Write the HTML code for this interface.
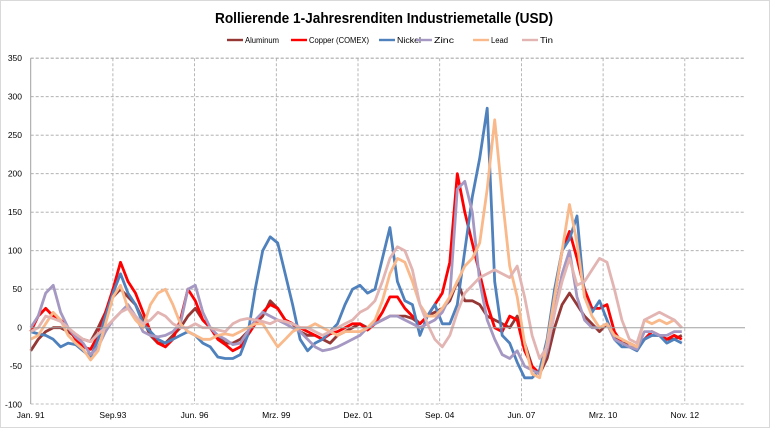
<!DOCTYPE html>
<html><head><meta charset="utf-8"><style>
html,body{margin:0;padding:0;background:#fff;}
svg{display:block;font-family:"Liberation Sans",sans-serif;}
</style></head><body>
<svg id="chart" width="770" height="428" viewBox="0 0 770 428" xmlns="http://www.w3.org/2000/svg">
<rect x="0.5" y="0.5" width="769" height="427" fill="#fff" stroke="#d9d9d9"/>
<text x="384" y="23" text-anchor="middle" font-size="15" font-weight="bold" textLength="338" lengthAdjust="spacingAndGlyphs">Rollierende 1-Jahresrenditen Industriemetalle (USD)</text>
<g id="legend"></g>
<g id="grid"></g>
<g id="series"></g>
<g id="axes"></g>
</svg>
<script>
const categories = [];
for (let y = 1991; y <= 2012; y++) for (let q = 1; q <= 4; q++) categories.push(y + "Q" + q);
const xTickLabels = ["Jan. 91","Sep.93","Jun. 96","Mrz. 99","Dez. 01","Sep. 04","Jun. 07","Mrz. 10","Nov. 12"];
const yTicks = [-100,-50,0,50,100,150,200,250,300,350];
const seriesNames = ["Aluminum","Copper (COMEX)","Nickel","Zinc","Lead","Tin"];
const aluminum = [-30,-15,-5,0,0,-5,-12,-15,-18,0,20,40,50,40,30,10,-10,-20,-20,-10,0,15,25,10,
0,-12,-20,-20,-15,-5,5,15,35,25,10,5,-5,-10,-10,-15,-20,-10,-5,0,5,0,5,10,15,15,15,12,5,15,20,25,35,60,35,35,30,15,10,5,0,15,-20,-50,-60,-40,0,30,45,30,15,5,-5,5,-10,-20,-20,-25,-15,-10,-10,-15,-15,-10];
const copper = [-5,15,25,15,10,0,-15,-25,-28,-10,20,50,85,60,45,20,-5,-20,-25,-15,10,50,35,10,
0,-15,-22,-30,-25,-10,5,20,30,25,10,5,0,-5,-10,-15,-8,-5,0,5,5,-3,5,20,40,40,25,15,5,15,30,45,85,200,150,110,70,30,0,-5,15,10,-30,-50,-60,-20,40,100,125,90,50,25,25,30,-5,-20,-25,-28,-15,-5,-10,-15,-10,-15];
const nickel = [-5,-8,-10,-15,-25,-20,-22,-30,-38,-15,15,45,70,45,30,5,-5,-15,-20,-15,-10,-5,-10,-20,
-25,-38,-40,-40,-35,-10,50,100,118,110,70,30,-15,-30,-20,-15,-5,5,30,50,55,45,50,90,130,60,35,30,-10,15,30,5,5,30,100,170,220,285,60,-10,-20,-45,-65,-65,-55,-15,50,100,115,145,40,20,35,10,-15,-25,-25,-30,-15,-10,-10,-20,-15,-20];
const zinc = [0,15,45,55,20,0,-12,-20,-35,-25,-5,10,20,30,15,-5,-10,-12,-10,-5,5,50,55,20,
0,-10,-15,-22,-20,-5,10,20,15,10,5,0,-5,-15,-25,-30,-28,-25,-20,-15,-10,0,5,10,15,15,10,5,0,5,10,20,40,180,190,150,60,10,-15,-35,-40,-30,-50,-55,-60,-30,20,70,100,40,10,0,0,5,-15,-20,-25,-28,-5,-5,-10,-10,-5,-5];
const lead = [-15,-10,5,20,10,-10,-20,-28,-42,-30,5,40,55,25,10,0,30,45,50,30,5,-5,-10,-15,
-15,-10,-8,-10,-5,0,5,5,-10,-25,-15,-5,0,0,5,0,-5,-10,-5,-5,-5,0,10,35,70,90,85,60,30,15,15,25,40,60,80,90,110,180,270,170,80,40,-20,-60,-65,-20,40,100,160,110,40,15,0,5,-10,-15,-20,-25,10,5,10,5,10,0];
const tin = [-5,0,15,12,8,0,-8,-15,-18,-8,0,10,20,25,15,5,10,20,15,5,0,0,5,0,
0,-3,-5,5,10,12,10,8,5,10,8,5,0,0,-5,-10,-5,0,5,10,20,25,35,60,90,105,100,75,30,5,-15,-25,-10,20,45,55,65,70,75,70,65,80,40,-10,-40,-25,20,60,90,55,60,75,90,85,50,10,-15,-20,10,15,20,15,10,0];
const seriesData = [aluminum, copper, nickel, zinc, lead, tin];
const seriesColors = ["#953735","#ff0000","#4f81bd","#a598c2","#f9b98a","#e2b5b3"];

const NS = "http://www.w3.org/2000/svg";
const plotL = 30.7, plotR = 745, plotT = 58.2, plotB = 404;
const y0 = 327.7, pxPer = 0.77;
const monthPx = 81.7 / 32.75;
function xScale(i){ return plotL + i * 3 * monthPx; }
function yScale(v){ return y0 - v * pxPer; }
function mk(tag, attrs, parent){ const e = document.createElementNS(NS, tag); for (const k in attrs) e.setAttribute(k, attrs[k]); parent.appendChild(e); return e; }

const grid = document.getElementById("grid");
const axes = document.getElementById("axes");
yTicks.forEach(t => {
  const y = yScale(t);
  if (t !== 0 && t !== -100) {
    const l = mk("line", {x1: plotL, x2: plotR, y1: y, y2: y, stroke: "#a6a6a6", "stroke-dasharray": "3,2", "stroke-width": 0.8}, grid);
    
    
  }
  const tx = mk("text", {x: 22, y: y + 3, "text-anchor": "end", "font-size": 8.5, fill: "#000"}, axes);
  tx.textContent = t;
  
  
});
xTickLabels.forEach((lab, k) => {
  const x = plotL + k * 81.7 + (k > 0 ? 0.5 : 0);
  if (k > 0) {
    const l = mk("line", {x1: x, x2: x, y1: plotT, y2: plotB, stroke: "#a6a6a6", "stroke-dasharray": "3,2", "stroke-width": 0.8}, grid);
    
    
  }
  const tx = mk("text", {x: x, y: 418, "text-anchor": "middle", "font-size": 8.5, fill: "#000"}, axes);
  tx.textContent = lab;
  
  
});
const bl = mk("line", {x1: plotL, x2: plotR, y1: plotB, y2: plotB, stroke: "#a6a6a6", "stroke-dasharray": "3,2", "stroke-width": 0.8}, grid);


const tl = mk("line", {x1: plotL, x2: plotR, y1: plotT, y2: plotT, stroke: "#a6a6a6", "stroke-dasharray": "3,2", "stroke-width": 0.8}, grid);



const sg = document.getElementById("series");
seriesData.forEach((arr, s) => {
  const d = arr.map((v, i) => (i ? "L" : "M") + xScale(i).toFixed(1) + "," + yScale(v).toFixed(1)).join(" ");
  const p = mk("path", {d: d, fill: "none", stroke: seriesColors[s], "stroke-width": 2.8, "stroke-linejoin": "round"}, sg);
  
  
});

const zl = mk("line", {x1: plotL, x2: plotR, y1: y0, y2: y0, stroke: "#a0a0a0", "stroke-width": 1}, axes);


const yl = mk("line", {x1: plotL, x2: plotL, y1: plotT, y2: plotB, stroke: "#a0a0a0", "stroke-width": 1}, axes);



const legend = document.getElementById("legend");
const legX = [227, 291, 379, 416, 473, 522];
const legW = [34, 60, 24, 20, 17, 13];
seriesNames.forEach((n, s) => {
  const g = mk("g", {}, legend);
  
  
  mk("line", {x1: legX[s], x2: legX[s] + 16, y1: 40, y2: 40, stroke: seriesColors[s], "stroke-width": 2.4}, g);
  const t = mk("text", {x: legX[s] + 18, y: 43, "font-size": 8, textLength: legW[s], lengthAdjust: "spacingAndGlyphs"}, g);
  t.textContent = n;
});
</script>
</body></html>
